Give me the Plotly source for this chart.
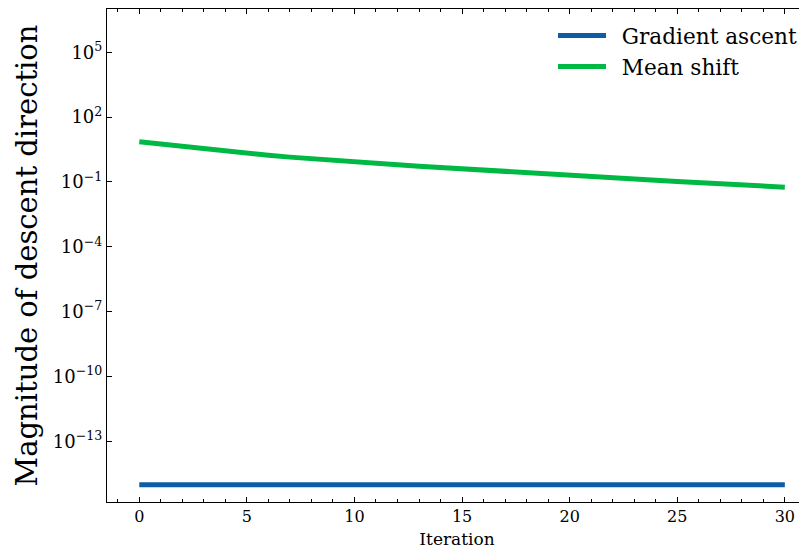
import plotly.graph_objects as go

iterations = list(range(31))
gradient_ascent = [1.0e-15] * 31
mean_shift = [7.33, 5.65, 4.38, 3.41, 2.69, 2.14, 1.73, 1.41, 1.17, 0.986,
              0.839, 0.719, 0.619, 0.535, 0.462, 0.401, 0.348, 0.302, 0.263, 0.230,
              0.201, 0.176, 0.155, 0.136, 0.120, 0.106, 0.0940, 0.0830, 0.0733, 0.0647,
              0.0571]

x_ticks = [0, 5, 10, 15, 20, 25, 30]
y_tick_vals = [1e5, 1e2, 1e-1, 1e-4, 1e-7, 1e-10, 1e-13]
y_tick_text = ["10<sup>5</sup>", "10<sup>2</sup>", "10<sup>\u22121</sup>", "10<sup>\u22124</sup>",
               "10<sup>\u22127</sup>", "10<sup>\u221210</sup>", "10<sup>\u221213</sup>"]

FONT = "DejaVu Serif"

fig = go.Figure()
fig.add_trace(go.Scatter(x=iterations, y=gradient_ascent, mode="lines", name="\u2002Gradient ascent",
                         legendgroup="a", line=dict(color="#0C5DA5", width=5)))
fig.add_trace(go.Scatter(x=iterations, y=mean_shift, mode="lines", name="\u2002Mean shift",
                         legendgroup="b", line=dict(color="#00B945", width=5)))

# page has an 8px body margin, so the figure is 8px smaller than the window
fig.update_layout(
    width=799, height=542,
    margin=dict(l=99, r=0, t=1, b=48),
    paper_bgcolor="white", plot_bgcolor="white",
    font=dict(family=FONT, color="black"),
    showlegend=True,
    legend=dict(x=(545 - 99) / 700, y=1 - (7 - 1) / 493, xanchor="left", yanchor="top",
                bgcolor="rgba(0,0,0,0)", font=dict(size=21.6, family=FONT),
                tracegroupgap=3, itemwidth=48, traceorder="normal"),
)
fig.update_xaxes(
    range=[-1.5, 31.03], tickvals=x_ticks, ticks="inside", ticklen=5, tickwidth=1,
    tickcolor="black", showline=True, linecolor="black", linewidth=1.2, mirror="allticks",
    showgrid=False, zeroline=False, tickfont=dict(size=16, family=FONT),
    minor=dict(dtick=1, tick0=0, ticks="inside", ticklen=3, tickcolor="black", showgrid=False),
    title=dict(text="Iteration", font=dict(size=17, family=FONT), standoff=7),
)
fig.update_yaxes(
    type="log", range=[-15.8, 7.0], tickvals=y_tick_vals, ticktext=y_tick_text,
    ticks="inside", ticklen=5, tickwidth=1, tickcolor="black", showline=True,
    linecolor="black", linewidth=1.2, mirror=False, showgrid=False, zeroline=False,
    tickfont=dict(size=18, family=FONT),
    title=dict(text="Magnitude of descent direction", font=dict(size=29, family=FONT), standoff=6),
)

fig.write_html("out.html")
